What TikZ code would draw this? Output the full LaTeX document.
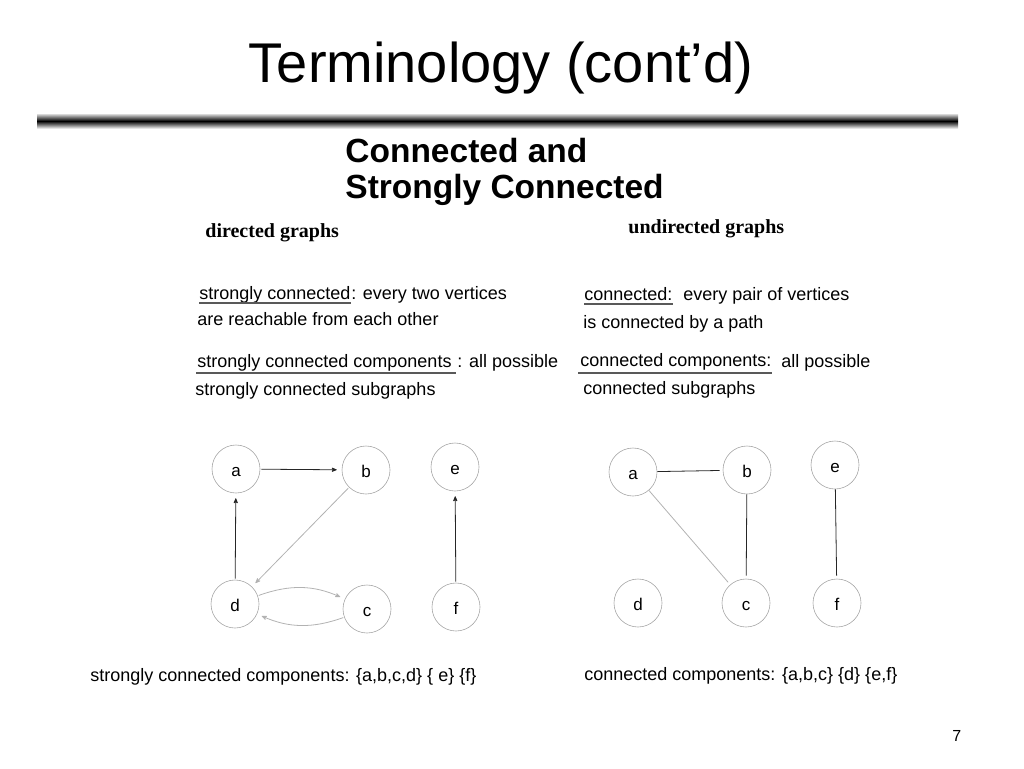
\documentclass[tikz,border=0pt]{standalone}
\usepackage{fontspec}
\setmainfont{Liberation Sans}
\newfontfamily\headfont{Liberation Serif}
\usetikzlibrary{arrows}

\begin{document}
\begin{tikzpicture}[x=1pt,y=-1pt,>=stealth',thick,
  main node/.style={circle,draw=gray!70,line width=0.6pt,minimum size=48pt,inner sep=0pt,text height=14pt,text depth=0pt,font=\fontsize{17}{17}\selectfont},
  txt/.style={anchor=base west,inner sep=0pt,font=\fontsize{18}{20}\selectfont},
  head/.style={anchor=base west,inner sep=0pt,font=\headfont\bfseries\fontsize{20}{22}\selectfont},
  sub/.style={anchor=base west,inner sep=0pt,font=\bfseries\fontsize{33.5}{36}\selectfont},
  uline/.style={draw=gray!70!black,line width=1.1pt},
  dark edge/.style={black!85,line width=0.8pt},
  light edge/.style={gray!60,line width=0.8pt}]
  \useasboundingbox (0,0) rectangle (1024,768);
  % title and rule
  \node (title) [anchor=base,inner sep=0pt,font=\fontsize{56}{60}\selectfont] at (501,82) {Terminology (cont’d)};
  \shade[top color=gray!30,bottom color=gray!20,middle color=black] (37,114) rectangle (958,128);
  \node (sub1) [sub] at (345,162) {Connected and};
  \node (sub2) [sub] at (345,198) {Strongly Connected};
  % directed side
  \node (dirhead) [head] at (205,237) {directed graphs};
  \node (sc) [txt] at (199,299) {strongly connected};
  \node (scdef) [txt] at (sc.base east) {: every two vertices};
  \node (scdef2) [txt] at (197,325) {are reachable from each other};
  \node (scc) [txt] at (197,367) {strongly connected components};
  \node (sccdef) [txt] at ([xshift=5pt]scc.base east) {: all possible};
  \node (sccdef2) [txt] at (195,395) {strongly connected subgraphs};
  \draw[uline] ([yshift=-4pt]sc.base west) -- ([yshift=-4pt]sc.base east);
  \draw[uline] ([xshift=-1pt,yshift=-6pt]scc.base west) -- ([xshift=4pt,yshift=-6pt]scc.base east);
  % undirected side
  \node (undirhead) [head] at (628,233) {undirected graphs};
  \node (cn) [txt] at (584,300) {connected:};
  \node (cndef) [txt] at (683,300) {every pair of vertices};
  \node (cndef2) [txt] at (583,328) {is connected by a path};
  \node (cc) [txt] at (580,366) {connected components:};
  \node (ccdef) [txt] at (781,367) {all possible};
  \node (ccdef2) [txt] at (583,394) {connected subgraphs};
  \draw[uline] ([yshift=-4pt]cn.base west) -- ([yshift=-4pt]cn.base east);
  \draw[uline] ([xshift=-2pt,yshift=-7pt]cc.base west) -- ([yshift=-7pt]cc.base east);
  % directed graph
  \node[main node] (la) at (236,469) {a};
  \node[main node] (lb) at (366,470) {b};
  \node[main node] (le) at (455,467) {e};
  \node[main node] (ld) at (235,604) {d};
  \node[main node] (lc) at (367,609) {c};
  \node[main node] (lf) at (456,607) {f};
  \path[->,shorten >=5pt,shorten <=1pt]
    (la) edge [dark edge] (lb)
    (ld) edge [dark edge] (la)
    (lb) edge [light edge] (ld)
    (ld) edge [light edge, bend left=22] (lc)
    (lc) edge [light edge, bend left=22] (ld)
    (lf) edge [dark edge] (le);
  % undirected graph
  \node[main node] (ra) at (633,472) {a};
  \node[main node] (rb) at (747,470) {b};
  \node[main node] (re) at (835,465) {e};
  \node[main node] (rd) at (638,603) {d};
  \node[main node] (rc) at (746,603) {c};
  \node[main node] (rf) at (837,603) {f};
  \path[shorten >=3pt]
    (ra) edge [dark edge] (rb)
    (ra) edge [light edge] (rc)
    (rb) edge [dark edge] (rc)
    (re) edge [dark edge] (rf);
  % components
  \node (lcomp) [txt] at (90,681) {strongly connected components: \{a,b,c,d\} \{ e\} \{f\}};
  \node (rcomp) [txt] at (584,680) {connected components: \{a,b,c\} \{d\} \{e,f\}};
  \node (pageno) [anchor=base west,inner sep=0pt,font=\fontsize{16}{18}\selectfont] at (952,741) {7};
\end{tikzpicture}
\end{document}
